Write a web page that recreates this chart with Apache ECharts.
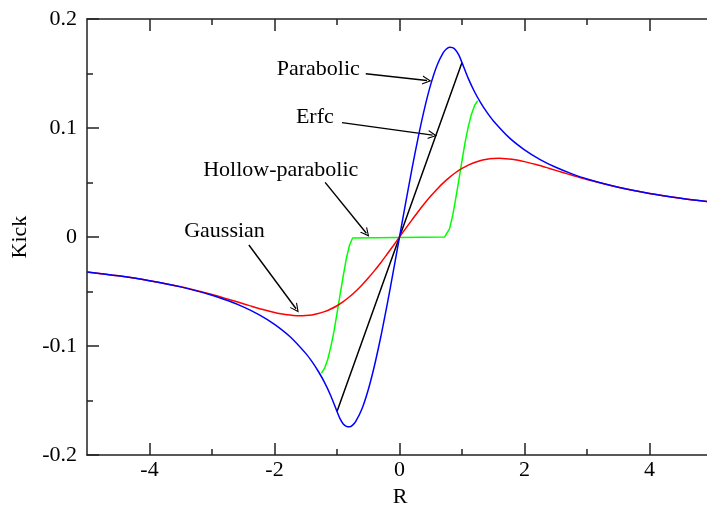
<!DOCTYPE html>
<html>
<head>
<meta charset="utf-8">
<script src="https://cdn.jsdelivr.net/npm/echarts@6/dist/echarts.min.js"></script>
<style>
html,body{margin:0;padding:0;background:#fff;overflow:hidden;}
#chart{width:707px;height:513px;}
</style>
</head>
<body>
<div id="chart"></div>
<script>
// ---- data ----
const parX = [-5,-4.5,-4,-3.5,-3,-2.75,-2.5,-2.25,-2,-1.75,-1.5,-1.4,-1.3,-1.2,-1.1,-1,-0.95,-0.9,-0.85,-0.8,-0.75,-0.7,-0.6,-0.5,-0.4,-0.3,-0.2,-0.1,0,0.1,0.2,0.3,0.4,0.5,0.6,0.7,0.75,0.8,0.85,0.9,0.95,1,1.1,1.2,1.3,1.4,1.5,1.75,2,2.25,2.5,2.75,3,3.5,4,4.5,5];
const parY = [-0.032,-0.0356,-0.04,-0.0457,-0.0533,-0.0582,-0.064,-0.0711,-0.08,-0.0914,-0.1067,-0.1143,-0.1231,-0.1333,-0.1455,-0.16,-0.1668,-0.1714,-0.1737,-0.1741,-0.1725,-0.1691,-0.1574,-0.14,-0.1178,-0.0917,-0.0627,-0.0318,0,0.0318,0.0627,0.0917,0.1178,0.14,0.1574,0.1691,0.1725,0.1741,0.1737,0.1714,0.1668,0.16,0.1455,0.1333,0.1231,0.1143,0.1067,0.0914,0.08,0.0711,0.064,0.0582,0.0533,0.0457,0.04,0.0356,0.032];

const gauX = [-5,-4.5,-4,-3.5,-3,-2.8,-2.6,-2.4,-2.2,-2,-1.9,-1.8,-1.7,-1.6,-1.5,-1.4,-1.3,-1.2,-1.1,-1,-0.9,-0.8,-0.7,-0.6,-0.5,-0.4,-0.3,-0.2,-0.1,0,0.1,0.2,0.3,0.4,0.5,0.6,0.7,0.8,0.9,1,1.1,1.2,1.3,1.4,1.5,1.6,1.7,1.8,1.9,2,2.2,2.4,2.6,2.8,3,3.5,4,4.5,5];
const gauY = [-0.032,-0.0356,-0.04,-0.0456,-0.0527,-0.056,-0.0594,-0.0629,-0.0663,-0.0692,-0.0704,-0.0713,-0.0719,-0.0722,-0.072,-0.0714,-0.0702,-0.0684,-0.066,-0.063,-0.0592,-0.0548,-0.0497,-0.0439,-0.0376,-0.0308,-0.0235,-0.0158,-0.008,0,0.008,0.0158,0.0235,0.0308,0.0376,0.0439,0.0497,0.0548,0.0592,0.063,0.066,0.0684,0.0702,0.0714,0.072,0.0722,0.0719,0.0713,0.0704,0.0692,0.0663,0.0629,0.0594,0.056,0.0527,0.0456,0.04,0.0356,0.032];

const holX = [-1.25,-1.2,-1.15,-1.1,-1.05,-1,-0.95,-0.9,-0.85,-0.8,-0.75,-0.72,0.72,0.75,0.8,0.85,0.9,0.95,1,1.05,1.1,1.15,1.2,1.25];
const holY = [-0.125,-0.1205,-0.1125,-0.101,-0.087,-0.07,-0.0525,-0.0355,-0.0195,-0.0075,-0.0008,0,0,0.0008,0.0075,0.0195,0.0355,0.0525,0.07,0.087,0.101,0.1125,0.1205,0.125];

const erfX = [-1,0,1];
const erfY = [-0.16,0,0.16];

// visible R range (the plot is cut at the right edge of the picture)
const xMin = -5, xMax = 4.92;
const xMajor = [-4,-2,0,2,4];
const xMinor = [-3,-1,1,3];
const yMajor = [-0.2,-0.1,0,0.1,0.2];
const yMinor = [-0.15,-0.05,0.05,0.15];

// annotations: [text, labelX, labelY, arrowFromX, arrowFromY, arrowToX, arrowToY]
const notes = [
  ['Parabolic', -1.3, 0.1543, -0.54, 0.1498, 0.44, 0.1436],
  ['Erfc', -1.355, 0.1096, -0.92, 0.105, 0.53, 0.0935],
  ['Hollow-parabolic', -1.9, 0.0612, -1.19, 0.0502, -0.53, 0.0035],
  ['Gaussian', -2.8, 0.0055, -2.41, -0.0073, -1.655, -0.0658]
];

// ---- chart ----
const FONT = 'Liberation Serif';
const AX = '#222';
const pairs = (xs, ys) => xs.map((x, i) => [x, ys[i]]);
const chevron = 'path://M0,12 L6,0 L12,12 L10.4,12 L6,3.2 L1.6,12 Z';

function xAx(pos, vals, len, labels) {
  return {
    type: 'value', min: xMin, max: xMax, position: pos,
    axisLine: { show: !!labels || pos === 'top' && len === 12, onZero: false, lineStyle: { color: AX, width: 1.5 } },
    axisTick: { show: true, inside: true, length: len, customValues: vals, lineStyle: { color: AX, width: 1.5 } },
    axisLabel: labels ? { show: true, customValues: vals, fontSize: 22, fontFamily: FONT, color: '#000', margin: 4 } : { show: false },
    splitLine: { show: false },
    name: labels ? 'R' : '',
    nameLocation: 'middle', nameGap: 30,
    nameTextStyle: { fontSize: 22, fontFamily: FONT, color: '#000', padding: [0, 0, 0, 6] }
  };
}
function yAx(vals, len, labels) {
  return {
    type: 'value', min: -0.2, max: 0.2, position: 'left',
    axisLine: { show: !!labels, onZero: false, lineStyle: { color: AX, width: 1.5 } },
    axisTick: { show: true, inside: true, length: len, customValues: vals, lineStyle: { color: AX, width: 1.5 } },
    axisLabel: labels ? { show: true, customValues: vals, fontSize: 22, fontFamily: FONT, color: '#000', margin: 10,
      formatter: v => String(+(+v).toFixed(2)) } : { show: false },
    splitLine: { show: false },
    name: labels ? 'Kick' : '',
    nameLocation: 'middle', nameGap: 54, nameRotate: 90,
    nameTextStyle: { fontSize: 22, fontFamily: FONT, color: '#000' }
  };
}

const chart = echarts.init(document.getElementById('chart'), null, { renderer: 'canvas' });
chart.setOption({
  animation: false,
  backgroundColor: '#fff',
  grid: { left: 87, top: 19, right: 0, bottom: 56, containLabel: false },
  xAxis: [xAx('bottom', xMajor, 12, true), xAx('bottom', xMinor, 6, false), xAx('top', xMajor, 12, false), xAx('top', xMinor, 6, false)],
  yAxis: [yAx(yMajor, 12, true), yAx(yMinor, 6, false)],
  series: [
    {
      name: 'Erfc', type: 'line', data: pairs(erfX, erfY), showSymbol: false, symbol: 'none',
      lineStyle: { color: '#000', width: 1.5 }, z: 2,
      markPoint: {
        symbol: 'circle', symbolSize: 1, itemStyle: { color: 'rgba(0,0,0,0)' }, silent: true,
        label: { show: true, position: 'inside', color: '#000', fontSize: 22, fontFamily: FONT },
        data: notes.map(n => ({ coord: [n[1], n[2]], value: n[0], label: { formatter: n[0] } }))
      },
      markLine: {
        silent: true, symbol: ['none', chevron], symbolSize: [9, 9],
        lineStyle: { color: '#000', width: 1.4, type: 'solid' },
        label: { show: false },
        data: notes.map(n => [{ coord: [n[3], n[4]] }, { coord: [n[5], n[6]] }])
      }
    },
    { name: 'Hollow-parabolic', type: 'line', data: pairs(holX, holY), showSymbol: false, symbol: 'none',
      lineStyle: { color: '#00ff00', width: 1.5 }, z: 3 },
    { name: 'Gaussian', type: 'line', data: pairs(gauX, gauY), showSymbol: false, symbol: 'none', smooth: 0.3,
      lineStyle: { color: '#ff0000', width: 1.5 }, z: 4 },
    { name: 'Parabolic', type: 'line', data: pairs(parX, parY), showSymbol: false, symbol: 'none', smooth: 0.3,
      lineStyle: { color: '#0000ff', width: 1.5 }, z: 5 }
  ]
});
</script>
</body>
</html>
